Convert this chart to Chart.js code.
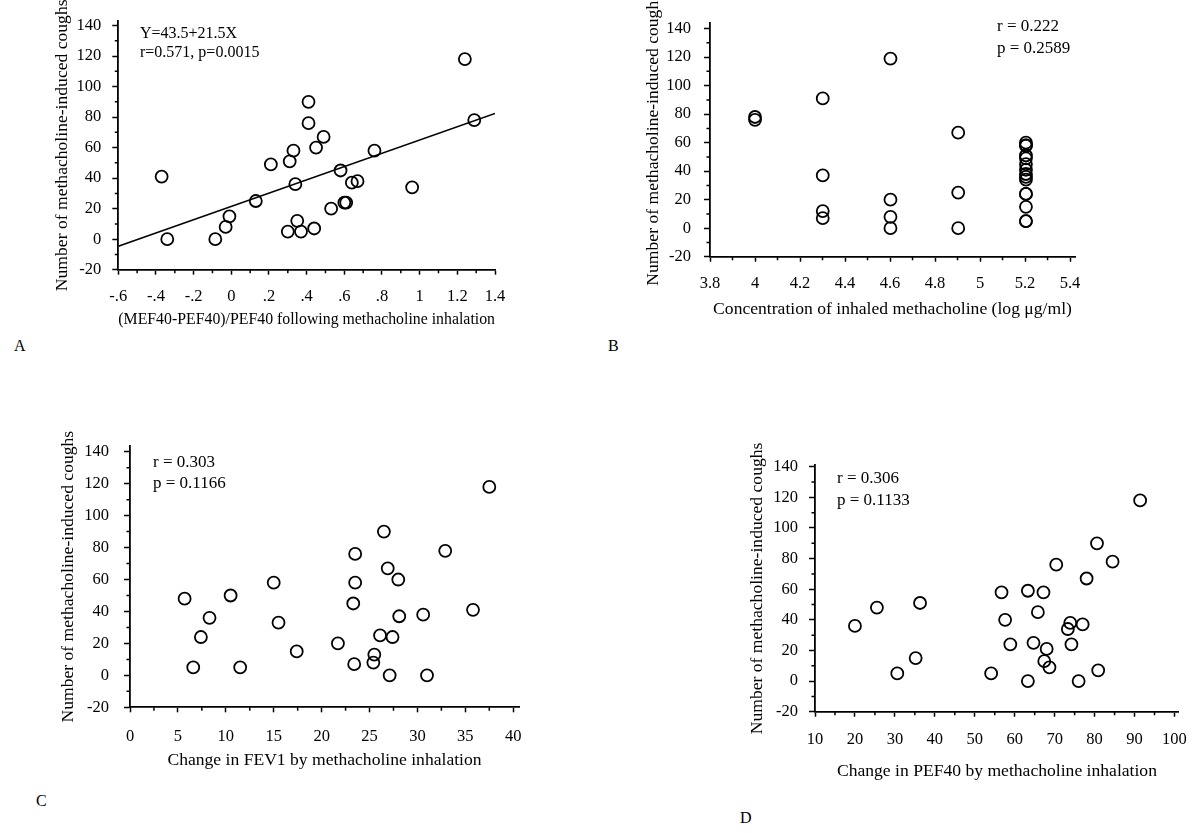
<!DOCTYPE html>
<html>
<head>
<meta charset="utf-8">
<script src="https://cdn.jsdelivr.net/npm/chart.js@4.4.1/dist/chart.umd.min.js"></script>
<style>
body{margin:0;background:#fff;width:1200px;height:833px;position:relative;overflow:hidden;font-family:"Liberation Serif","Times New Roman",serif;color:#000}
canvas{position:absolute}
.note{position:absolute;font-size:17px;line-height:20px;white-space:nowrap}
.tag{position:absolute;font-size:16px;line-height:20px}
</style>
</head>
<body>
<canvas id="chartA"></canvas>
<canvas id="chartB"></canvas>
<canvas id="chartC"></canvas>
<canvas id="chartD"></canvas>

<div class="note" style="left:140px;top:23px;font-size:16px">Y=43.5+21.5X</div>
<div class="note" style="left:140px;top:42px;font-size:16px">r=0.571, p=0.0015</div>
<div class="note" style="left:997px;top:16px">r = 0.222</div>
<div class="note" style="left:997px;top:38px">p = 0.2589</div>
<div class="note" style="left:153px;top:452px">r = 0.303</div>
<div class="note" style="left:153px;top:473px">p = 0.1166</div>
<div class="note" style="left:837px;top:468px">r = 0.306</div>
<div class="note" style="left:837px;top:490px">p = 0.1133</div>

<div class="tag" style="left:14px;top:336px">A</div>
<div class="tag" style="left:608px;top:336px">B</div>
<div class="tag" style="left:36px;top:791px">C</div>
<div class="tag" style="left:740px;top:808px">D</div>

<script>
// shared y values / ticks
const yTicks = [-20, 0, 20, 40, 60, 80, 100, 120, 140]

// A: (MEF40-PEF40)/PEF40
const ratioA = [-0.37, -0.34, -0.085, -0.03, -0.01, 0.13, 0.21, 0.31, 0.33, 0.34, 0.35, 0.30, 0.37, 0.41,
 0.41, 0.45, 0.44, 0.49, 0.53, 0.58, 0.60, 0.61, 0.64, 0.67, 0.76, 0.96, 1.24, 1.29]
const coughsA = [41, 0, 0, 8, 15, 25, 49, 51, 58, 36, 12, 5, 5, 90,
 76, 60, 7, 67, 20, 45, 24, 24, 37, 38, 58, 34, 118, 78]
const aXTicks = [-0.6, -0.4, -0.2, 0, 0.2, 0.4, 0.6, 0.8, 1, 1.2, 1.4]
const aXLabels = ["-.6", "-.4", "-.2", "0", ".2", ".4", ".6", ".8", "1", "1.2", "1.4"]
const fitIntercept = 21.5
const fitSlope = 43.5

// B: log concentration
const concB = [4, 4, 4.301, 4.301, 4.301, 4.301, 4.602, 4.602, 4.602, 4.602, 4.903, 4.903, 4.903,
 5.204, 5.204, 5.204, 5.204, 5.204, 5.204, 5.204, 5.204, 5.204, 5.204, 5.204, 5.204, 5.204, 5.204, 5.204]
const coughsB = [78, 76, 91, 37, 12, 7, 119, 20, 8, 0, 67, 25, 0,
 60, 58, 58, 51, 49, 45, 41, 38, 36, 34, 24, 24, 15, 5, 5]
const bXTicks = [3.8, 4, 4.2, 4.4, 4.6, 4.8, 5, 5.2, 5.4]
const bXLabels = ["3.8", "4", "4.2", "4.4", "4.6", "4.8", "5", "5.2", "5.4"]

// C: change in FEV1
const fev1C = [5.7, 6.6, 7.4, 8.3, 10.5, 11.5, 15.0, 15.5, 17.4, 21.7, 23.3, 23.5, 23.5, 23.4,
 25.4, 25.5, 26.1, 26.5, 26.9, 27.1, 27.4, 28.0, 28.1, 30.6, 31.0, 32.9, 35.8, 37.5]
const coughsC = [48, 5, 24, 36, 50, 5, 58, 33, 15, 20, 45, 76, 58, 7,
 8, 13, 25, 90, 67, 0, 24, 60, 37, 38, 0, 78, 41, 118]
const cXTicks = [0, 5, 10, 15, 20, 25, 30, 35, 40]
const cXLabels = ["0", "5", "10", "15", "20", "25", "30", "35", "40"]

// D: change in PEF40
const pefD = [20, 25.5, 30.6, 35.2, 36.3, 54.1, 56.7, 57.6, 58.9, 63.3, 63.3, 64.7, 65.8, 67.2,
 68.0, 67.4, 68.7, 70.4, 73.3, 73.9, 74.2, 76.0, 77.0, 78.0, 80.6, 80.9, 84.5, 91.4]
const coughsD = [36, 48, 5, 15, 51, 5, 58, 40, 24, 59, 0, 25, 45, 58,
 21, 13, 9, 76, 34, 38, 24, 0, 37, 67, 90, 7, 78, 118]
const dXTicks = [10, 20, 30, 40, 50, 60, 70, 80, 90, 100]
const dXLabels = ["10", "20", "30", "40", "50", "60", "70", "80", "90", "100"]

const yTitle = "Number of methacholine-induced coughs"

Chart.defaults.font.family = "'Liberation Serif', 'Times New Roman', serif"
Chart.defaults.color = "#000"

const mids = t => t.slice(1).map((v, i) => (v + t[i]) / 2)

const minorTicks = {
 id: "minorTicks",
 afterDraw(chart, args, opts){
  const {ctx, chartArea} = chart
  const sx = chart.scales.x, sy = chart.scales.y
  ctx.save()
  ctx.strokeStyle = "#000"
  ctx.lineWidth = 1.5
  ctx.beginPath()
  opts.x.forEach(v=>{
   const px = sx.getPixelForValue(v)
   ctx.moveTo(px, chartArea.bottom)
   ctx.lineTo(px, chartArea.bottom + 3.5)
  })
  opts.y.forEach(v=>{
   const py = sy.getPixelForValue(v)
   ctx.moveTo(chartArea.left, py)
   ctx.lineTo(chartArea.left - 3.5, py)
  })
  ctx.stroke()
  ctx.restore()
 }
}

function panel(id, box, area, xs, ys, xTicks, xLabels, xMin, xMax, yMax, xTitle, pads, fit){

 const cv = document.getElementById(id)
 const w = box.right - box.left, h = box.bottom - box.top
 cv.width = w
 cv.height = h
 cv.style.left = box.left + "px"
 cv.style.top = box.top + "px"
 cv.style.width = w + "px"
 cv.style.height = h + "px"

 const datasets = [{
  data: xs.map((x, i)=>({x: x, y: ys[i]})),
  pointStyle: "circle",
  pointRadius: 6,
  pointBorderWidth: 1.8,
  pointBorderColor: "#000",
  pointBackgroundColor: "rgba(0,0,0,0)",
  showLine: false,
  clip: false
 }]

 if(fit){
  datasets.push({
   data: [xMin, xTicks[xTicks.length - 1]].map(x=>({x: x, y: fit.a + fit.b * x})),
   showLine: true,
   pointRadius: 0,
   borderColor: "#000",
   borderWidth: 1.6
  })
 }

 new Chart(cv, {
  type: "scatter",
  data: {datasets: datasets},
  plugins: [minorTicks],
  options: {
   responsive: false,
   animation: false,
   layout: {padding: {top: area.top - box.top, right: box.right - area.right, left: 0, bottom: 0}},
   plugins: {
    legend: {display: false},
    tooltip: {enabled: false},
    minorTicks: {x: mids(xTicks), y: mids(yTicks)}
   },
   scales: {
    x: {
     type: "linear",
     min: xMin,
     max: xMax,
     afterBuildTicks: s=>{ s.ticks = xTicks.map(v=>({value: v})) },
     afterFit: s=>{ s.height = box.bottom - area.bottom },
     ticks: {
      autoSkip: false, maxRotation: 0, padding: pads.x,
      font: {size: 16.5},
      callback: (v, i)=>xLabels[i]
     },
     grid: {display: true, drawOnChartArea: false, drawTicks: true, tickLength: 5, tickColor: "#000", tickWidth: 1.5},
     border: {display: true, color: "#000", width: 1.8},
     title: {display: true, text: xTitle, font: {size: 17.6}, padding: 0}
    },
    y: {
     type: "linear",
     min: -20,
     max: yMax,
     afterBuildTicks: s=>{ s.ticks = yTicks.map(v=>({value: v})) },
     afterFit: s=>{ s.width = area.left - box.left },
     ticks: {
      autoSkip: false, padding: pads.y,
      font: {size: 16.5},
      callback: v=>String(v)
     },
     grid: {display: true, drawOnChartArea: false, drawTicks: true, tickLength: 6, tickColor: "#000", tickWidth: 1.5},
     border: {display: true, color: "#000", width: 1.8},
     title: {display: true, text: yTitle, font: {size: 17.6}, padding: 0}
    }
   }
  }
 })

}

panel("chartA",
 {left: 52, top: 0, right: 520, bottom: 330},
 {left: 118.3, top: 13.6, right: 495, bottom: 269.7},
 ratioA, coughsA, aXTicks, aXLabels, -0.6, 1.4, 143,
 "(MEF40-PEF40)/PEF40 following methacholine inhalation",
 {x: 12, y: 11},
 {a: fitIntercept, b: fitSlope})

panel("chartB",
 {left: 643, top: 0, right: 1100, bottom: 320},
 {left: 710, top: 12.3, right: 1075, bottom: 256.7},
 concB, coughsB, bXTicks, bXLabels, 3.8, 5.422, 144,
 "Concentration of inhaled methacholine (log \u03bcg/ml)",
 {x: 12, y: 13})

panel("chartC",
 {left: 58, top: 420, right: 545, bottom: 771},
 {left: 130, top: 446, right: 519, bottom: 707.3},
 fev1C, coughsC, cXTicks, cXLabels, 0, 40.6, 143.6,
 "Change in FEV1 by methacholine inhalation",
 {x: 14, y: 15})

panel("chartD",
 {left: 747, top: 440, right: 1200, bottom: 782},
 {left: 815, top: 465.2, right: 1188, bottom: 711.7},
 pefD, coughsD, dXTicks, dXLabels, 10, 101.1, 141,
 "Change in PEF40 by methacholine inhalation",
 {x: 13, y: 11})
</script>
</body>
</html>
